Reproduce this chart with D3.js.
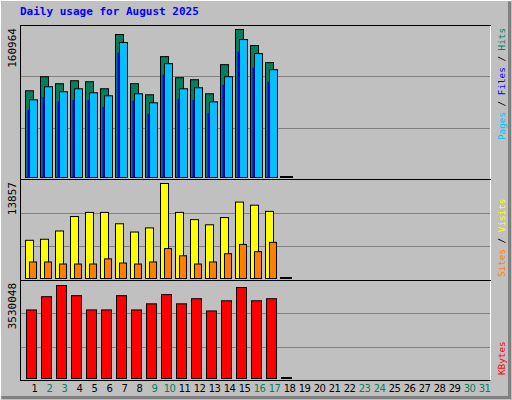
<!DOCTYPE html><html><head><meta charset="utf-8"><script src="https://cdn.jsdelivr.net/npm/d3@7"></script>
<style>body{margin:0;background:#fff}</style></head><body><svg id="c" width="512" height="400"></svg><script>
const days=d3.range(1,32);
const weekend=[2,3,9,10,16,17,23,24,30,31];
const hitsPx=[259,301,280,289,286,265,427,280,247,361,298,292,250,337,442,394,343];
const filesPx=[232,271,256,265,253,244,403,250,223,340,265,268,226,301,412,370,322];
const pagesPx=[202,241,227,232,232,211,373,229,190,307,235,232,193,277,376,328,286];
const visitsPx=[111,114,138,180,192,192,159,135,147,276,192,171,156,177,222,213,195];
const sitesPx=[48,48,42,42,42,57,45,42,48,87,66,42,48,72,99,78,105];
const kbPx=[202,241,274,244,202,202,244,202,220,247,220,235,199,229,268,229,235];
const hitsMax=160964, visitsMax=13857, kbMax=3530048;
const HITS=hitsPx.map(h=>Math.round(h/442*hitsMax)), FILES=filesPx.map(h=>Math.round(h/442*hitsMax)), PAGES=pagesPx.map(h=>Math.round(h/442*hitsMax));
const VISITS=visitsPx.map(h=>Math.round(h/276*visitsMax)), SITES=sitesPx.map(h=>Math.round(h/276*visitsMax));
const KB=kbPx.map(h=>Math.round(h/274*kbMax));
for(const a of [HITS,FILES,PAGES,VISITS,SITES,KB]) a.push(0);
const svg=d3.select("#c");
svg.append("rect").attr("width",512).attr("height",400).attr("fill","#c0c0c0");
svg.append("path").attr("d","M0.5,399.5V0.5H511.5").attr("stroke","#fff").attr("fill","none");
svg.append("path").attr("d","M1.5,397.5H509.5V1.5").attr("stroke","#808080").attr("stroke-width",3).attr("fill","none");
svg.append("text").attr("x",20).attr("y",15).text("Daily usage for August 2025").attr("fill","#0000ff").attr("font-family","DejaVu Sans Mono").attr("font-weight","bold").attr("font-size",11);
const x=d3.scaleBand().domain(days).range([25,490]).paddingInner(0);
const panels=[{t:25,b:179},{t:179,b:280},{t:280,b:380}];
const mono="DejaVu Sans Mono";
function panel(p,maxV,plotTop,label,series,rlabels,rpos){
  const y=d3.scaleLinear().domain([0,maxV]).range([p.b-2,plotTop]);
  const g=svg.append("g");
  g.append("rect").attr("x",20.5).attr("y",p.t+0.5).attr("width",470).attr("height",p.b-p.t).attr("fill","#c0c0c0").attr("stroke","#000");
  g.append("path").attr("d",`M${490.5},${p.t+1}V${p.b+0.5}`).attr("stroke","#fff");
  const gy=d3.scaleLinear().domain([0,3]).range([p.b,p.t]);
  [1,2].forEach(i=>g.append("line").attr("x1",21).attr("x2",490).attr("y1",Math.round(gy(i))+0.5).attr("y2",Math.round(gy(i))+0.5).attr("stroke","#808080"));
  series.forEach(s=>{
    g.selectAll(null).data(s.vals).enter().append("rect")
      .attr("x",(d,i)=>x(i+1)+s.off+0.5).attr("width",s.w)
      .attr("y",d=>Math.min(y(d),p.b-3)+0.5).attr("height",d=>Math.max(p.b-2-y(d),1))
      .attr("fill",d=>d===0?"#000":s.c).attr("stroke",s.stroke?"#000":"none");
  });
  g.append("text").attr("transform",`translate(16,${p.t+3}) rotate(-90)`).attr("text-anchor","end").attr("font-family",mono).attr("font-size",11).text(label);
  const rt=g.append("text").attr("transform",`translate(505,${rpos[0]}) rotate(-90)`).attr("text-anchor",rpos[1]).attr("font-family",mono).attr("font-size",9.3);
  rlabels.forEach((r,i)=>{if(i)rt.append("tspan").text(" / ").attr("fill","#000");rt.append("tspan").text(r[0]).attr("fill",r[1]);});
}
panel(panels[0],hitsMax,panels[0].t+4,"160964",[
 {vals:HITS,off:0,w:8,c:"#00805c",stroke:1},
 {vals:FILES,off:4,w:8,c:"#00c0ff",stroke:1},
 {vals:PAGES,off:2,w:2,c:"#0000ff",stroke:0}],[["Pages","#00c0ff"],["Files","#0000ff"],["Hits","#00805c"]],[28,"end"]);
panel(panels[1],visitsMax,panels[1].t+4,"13857",[
 {vals:VISITS,off:0,w:8,c:"#ffff00",stroke:1},
 {vals:SITES,off:4,w:7,c:"#ff8000",stroke:1}],[["Sites","#ff8000"],["Visits","#ffff00"]],[277,"start"]);
panel(panels[2],kbMax,panels[2].t+5,"3530048",[
 {vals:KB,off:1,w:10,c:"#ff0000",stroke:1}],[["KBytes","#ff0000"]],[375,"start"]);
svg.selectAll(".dl").data(days).enter().append("text").attr("x",d=>x(d)+x.bandwidth()/2+2).attr("y",392)
 .attr("text-anchor","middle").attr("font-family","DejaVu Sans").attr("font-size",10).attr("letter-spacing",-0.6)
 .attr("fill",d=>weekend.includes(d)?"#00805c":"#000").text(d=>d);
</script></body></html>
